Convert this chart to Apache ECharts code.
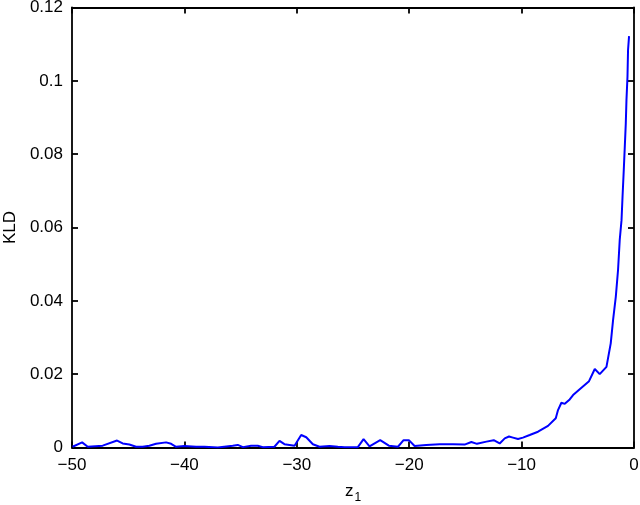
<!DOCTYPE html>
<html>
<head>
<meta charset="utf-8">
<script src="https://cdn.jsdelivr.net/npm/echarts@6/dist/echarts.min.js"></script>
<style>html,body{margin:0;padding:0;background:#fff}#c{width:640px;height:505px}</style>
</head>
<body>
<div id="c"></div>
<script>
const zValues = [-49.95,-49.1,-48.6,-47.27,-45.99,-45.49,-44.9,-44.3,-43.71,-43.12,-42.52,-41.63,-41.18,-40.74,-40.0,-38.96,-38.22,-37.03,-35.7,-35.25,-34.8,-34.06,-33.47,-33.03,-31.99,-31.54,-31.1,-30.2,-29.61,-29.16,-28.57,-27.98,-27.09,-26.35,-25.75,-24.57,-24.06,-23.53,-22.58,-21.81,-21.0,-20.5,-20.03,-19.52,-18.48,-17.29,-16.11,-15.07,-14.47,-13.97,-13.13,-12.48,-11.95,-11.5,-11.12,-10.77,-10.32,-9.88,-9.28,-8.54,-7.65,-6.96,-6.76,-6.46,-6.16,-5.72,-5.42,-4.83,-4.0,-3.49,-3.05,-2.45,-2.07,-1.86,-1.62,-1.42,-1.27,-1.11,-1.02,-0.91,-0.82,-0.73,-0.67,-0.58,-0.53,-0.44];
const kldValues = [0.0002,0.0014,0.0002,0.0005,0.0019,0.0011,0.0008,0.0002,0.0002,0.0005,0.0010,0.0014,0.0010,0.0002,0.0004,0.0002,0.0002,0.0000,0.0005,0.0007,0.0001,0.0005,0.0005,0.0001,0.0002,0.0018,0.0009,0.0005,0.0034,0.0028,0.0009,0.0002,0.0004,0.0002,0.0001,0.0001,0.0023,0.0003,0.0020,0.0005,0.0002,0.0020,0.0020,0.0004,0.0007,0.0009,0.0009,0.0008,0.0015,0.0010,0.0016,0.0020,0.0011,0.0025,0.0030,0.0027,0.0023,0.0027,0.0034,0.0043,0.0059,0.0080,0.0102,0.0122,0.0119,0.0131,0.0143,0.0159,0.0181,0.0214,0.0200,0.0220,0.0284,0.0348,0.0411,0.0484,0.0566,0.0620,0.0684,0.0757,0.0820,0.0884,0.0948,0.1011,0.1084,0.1122];
const xTicks = [-50,-40,-30,-20,-10,0];
const yTicks = [0,0.02,0.04,0.06,0.08,0.1,0.12];
const xLabel = 'z';
const xLabelSub = '1';
const yLabel = 'KLD';

const FONT = '"Liberation Sans", Arial, Helvetica, sans-serif';
const chart = echarts.init(document.getElementById('c'));
const lineStyle = {color:'#000', width:1.8};
const fmtMinus = v => String(v).replace('-', '\u2212');
chart.setOption({
  animation:false,
  grid:{left:72, right:6, top:7.5, bottom:57.5, containLabel:false, outerBoundsMode:'none'},
  xAxis:[{
    type:'value', min:xTicks[0], max:xTicks[xTicks.length-1], interval:10, position:'bottom',
    axisLine:{show:true, onZero:false, lineStyle}, axisTick:{show:true, inside:true, length:6, lineStyle},
    axisLabel:{show:true, color:'#000', fontSize:17, fontFamily:FONT, margin:9, formatter:fmtMinus},
    splitLine:{show:false},
    name:'{a|' + xLabel + '}{b|' + xLabelSub + '}', nameLocation:'middle', nameGap:32,
    nameTextStyle:{rich:{a:{fontSize:17, fontFamily:FONT, color:'#000'}, b:{fontSize:12, fontFamily:FONT, color:'#000', verticalAlign:'bottom', padding:[12,0,0,1]}}}
  },{
    type:'value', min:xTicks[0], max:xTicks[xTicks.length-1], interval:10, position:'top',
    axisLine:{show:true, onZero:false, lineStyle}, axisTick:{show:true, inside:true, length:6, lineStyle},
    axisLabel:{show:false}, splitLine:{show:false}
  }],
  yAxis:[{
    type:'value', min:yTicks[0], max:yTicks[yTicks.length-1], interval:0.02, position:'left',
    axisLine:{show:true, onZero:false, lineStyle}, axisTick:{show:true, inside:true, length:6, lineStyle},
    axisLabel:{show:true, color:'#000', fontSize:17, fontFamily:FONT, margin:9},
    splitLine:{show:false},
    name:yLabel, nameLocation:'middle', nameGap:51,
    nameTextStyle:{fontSize:17, fontFamily:FONT, color:'#000'}
  },{
    type:'value', min:yTicks[0], max:yTicks[yTicks.length-1], interval:0.02, position:'right',
    axisLine:{show:true, onZero:false, lineStyle}, axisTick:{show:true, inside:true, length:6, lineStyle},
    axisLabel:{show:false}, splitLine:{show:false}
  }],
  series:[{
    type:'line', xAxisIndex:0, yAxisIndex:0, showSymbol:false, symbol:'none',
    lineStyle:{color:'#0000ff', width:2},
    data: zValues.map((z,i)=>[z, kldValues[i]])
  }]
});
</script>
</body>
</html>
